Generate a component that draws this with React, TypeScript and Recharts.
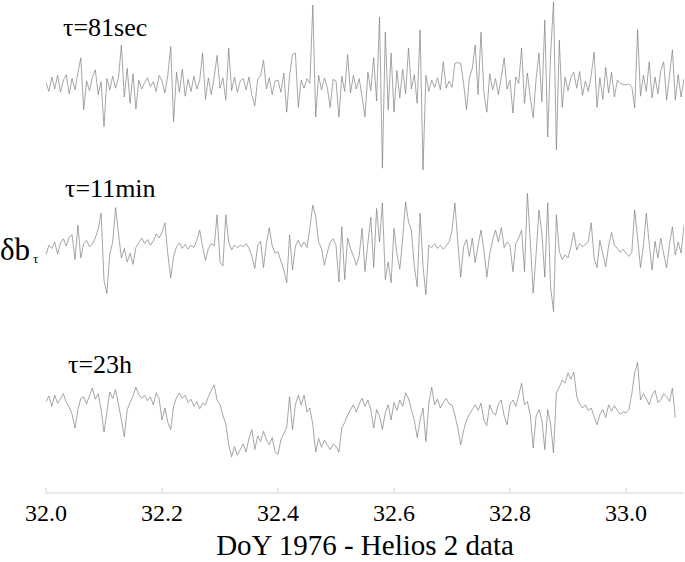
import React from 'react';
import { LineChart, Line, XAxis, YAxis } from 'recharts';

// sampling of the traces (day of year 1976)
const SAMPLE_START = 32.0;
const SAMPLE_STEP = 0.005;

// tau = 81 sec increments
const topValues: (number | null)[] = [
  0.3, -0.8, 1.0, -0.5, 1.2, -0.9, 0.6, 1.3, -1.1, 0.8, -0.6, 1.5, 3.4, -3.1, 0.5, -0.7, 1.0, 1.9, -1.2, 0.4,
  -5.2, 0.8, -0.6, 1.1, -0.4, 0.9, 5.0, -1.5, 2.1, -2.3, 1.4, -3.0, 0.6, -0.5, 0.3, 0.9, -0.2, 0.4, -0.8, 1.2,
  0.5, -1.0, 1.2, 4.8, -4.6, 1.6, -0.9, 2.0, -1.4, 0.7, -0.8, 1.1, -0.5, 0.6, 4.0, -1.8, 0.9, -1.2, 1.0, 3.7,
  -0.4, 0.9, -1.9, 4.6, -0.7, 1.0, -0.9, 0.5, 0.8, -0.6, 1.0, -1.3, -2.6, 0.7, 1.2, 3.1, -0.5, 0.9, -1.2, 0.5,
  0.6, -0.9, 1.5, -3.4, 1.2, 3.8, 4.0, -2.8, 0.6, -0.4, 0.8, 0.2, 10.0, -4.0, 1.2, -0.6, 0.9, -0.3, -2.8, 0.7,
  0.5, -4.0, 1.1, -0.8, 3.8, -1.0, 1.2, -0.5, 0.8, -1.5, -4.0, 1.6, -0.7, 3.4, -2.0, 8.5, -10.4, 6.6, -3.1, 4.0,
  -3.4, 1.8, -1.6, 2.0, -1.1, 4.6, -0.5, 1.3, -2.3, 6.9, -10.6, 1.2, -0.8, 0.6, -0.3, 0.9, -0.6, 2.9, -0.4, 0.5,
  -0.3, 2.7, 2.8, 2.7, 0.2, -3.1, 0.9, 2.1, 5.0, -1.2, 6.6, -0.9, -3.4, 1.4, -0.6, 0.8, -1.2, 1.0, 3.4, -0.5,
  0.6, -3.5, 1.0, 0.2, 4.6, -2.3, 1.5, -1.6, -4.1, 0.8, 4.0, -2.1, 8.1, -6.5, 3.8, 10.4, -8.1, 5.6, -2.8, 1.0,
  -0.7, 0.9, 1.6, -0.4, 1.7, -1.3, 0.5, -0.8, 1.2, 4.1, -2.8, 0.9, -1.8, 2.2, -1.0, 1.6, -1.5, 0.6, 0.2, 0.1,
  0.0, 0.1, -0.2, -2.9, 6.9, -1.4, 1.2, -0.8, 2.9, -1.6, 1.0, -1.1, 1.8, 2.9, -1.9, 1.2, 4.4, -1.9, 1.3, -1.5, 0.8,
];

// tau = 11 min increments
const midValues: (number | null)[] = [
  -0.6, 0.6, 0.2, 1.0, -0.5, 0.9, 1.4, 0.5, 1.6, 1.9, -1.2, 3.1, -1.0, 0.8, 1.2, 0.4, 0.7, 1.5, 2.6, 4.6,
  -3.8, -5.4, -0.5, 1.0, 5.3, 2.0, -1.0, 0.2, -1.5, -0.4, -1.8, 0.3, 0.9, 1.5, 0.8, 1.3, 0.6, 1.1, 2.0, 1.5,
  2.2, 3.4, -0.5, -3.5, -0.8, 0.4, 0.9, 0.2, 0.7, 0.1, 0.6, 0.3, 1.2, 2.5, 0.4, -1.3, 0.2, 0.8, 0.5, 4.4,
  -1.5, -2.0, 4.4, 1.0, 0.0, 0.6, 0.3, 0.6, 0.4, 0.8, 0.2, -0.8, -2.3, 0.6, 1.1, -2.2, 0.8, 2.8, 0.5, -0.4,
  -0.2, -1.4, -2.5, -4.1, 1.9, -2.5, 0.5, 1.2, 0.4, 1.0, 0.3, 2.8, 5.6, 4.2, 1.0, 0.2, -1.9, -0.3, 1.0, 1.4,
  0.6, -4.0, 2.9, -3.7, 1.5, 0.2, -0.8, -1.9, -0.7, 2.7, -2.7, 0.9, 4.1, -2.2, 5.2, 1.0, 5.9, -3.7, -1.5, -4.1,
  2.7, -0.5, -2.4, 1.5, 6.0, 3.5, 2.5, -2.0, -4.6, 4.6, -2.0, -5.6, 0.6, 0.3, 0.8, 0.2, 0.6, 0.1, 0.5, 1.0,
  2.4, 5.9, 1.0, -3.4, 0.4, 1.3, -0.8, 1.5, -1.6, 0.6, 2.5, 0.0, -3.4, -0.5, 1.2, 2.5, 1.0, 2.8, 0.3, 1.0,
  0.6, -2.7, 0.8, 1.5, 2.5, -2.7, 7.1, 1.0, -5.4, -0.5, 5.0, 2.0, -3.4, 5.9, -4.6, -7.7, 4.4, -0.2, -1.2, -0.6,
  -1.0, 0.4, 2.2, 0.0, 0.8, 0.4, 0.7, 1.0, 3.4, -1.0, -2.2, 1.2, -0.5, -2.1, 0.5, 2.2, 0.6, 0.2, -0.3, 0.1,
  -0.4, -0.8, -0.3, 5.0, 1.5, -2.2, 0.5, 4.6, 0.8, -2.5, 1.1, -1.0, 1.5, -0.5, -2.2, 0.7, 2.9, -0.6, 1.0, -0.4, 3.1,
];

// tau = 23 h increments
const botValues: (number | null)[] = [
  -0.2, 0.5, -0.8, 0.6, -0.4, 0.2, 0.8, -0.3, -0.9, -1.8, -3.5, -1.2, 0.2, 0.4, -0.5, 0.6, 1.5, 0.1, 0.8, -1.2,
  -4.0, -1.5, 1.0, 0.2, 1.3, -0.6, -2.5, -4.6, -1.2, -0.3, 0.5, 1.6, 0.7, 0.2, 0.6, -0.1, 0.4, -0.6, 0.9, 0.2,
  -2.5, -1.0, -2.8, -3.7, -0.8, 0.3, 0.9, 0.2, 0.6, -0.3, 0.1, -0.8, -0.2, -1.1, -0.4, -0.6, 0.4, 1.2, 1.9, 0.0,
  -0.6, -1.9, -3.0, -5.6, -7.1, -5.8, -6.9, -6.2, -5.5, -6.5, -4.8, -3.7, -6.2, -4.5, -5.2, -3.9, -5.0, -5.6, -4.7, -6.5,
  -6.8, -5.0, -4.2, -3.5, 0.4, -3.7, -0.6, 0.6, -0.6, 0.6, -1.5, -1.0, -3.1, -6.5, -4.8, -5.9, -5.0, -5.6, -6.2, -5.5,
  -5.8, -6.5, -3.5, -2.8, -1.9, -1.2, -0.6, -1.5, -0.5, 0.2, -0.8, 0.0, -1.2, -3.5, -1.2, -2.0, -3.7, -1.6, -0.6, -2.5,
  -0.3, -1.3, 0.0, -0.8, 0.9, 0.2, -1.2, -2.5, -4.7, -2.5, -1.0, -5.2, -0.5, 1.6, -0.6, 0.1, -1.0, -0.3, 0.2, -0.5,
  -0.6, -1.9, -3.5, -5.6, -3.8, -2.5, -1.8, -1.2, -0.6, -1.3, -0.4, -2.5, -3.2, -0.6, -1.5, -1.9, -0.5, 0.0, -2.0, -3.1,
  -0.5, 0.0, -0.8, 0.6, 2.1, -0.6, -0.2, -1.9, -6.0, -2.0, -1.2, -2.5, -6.2, -1.2, -3.0, -6.6, 0.9, 1.6, 2.5, 2.1,
  3.4, 2.6, 3.5, 0.5, -0.5, -1.0, -0.6, -1.3, -1.0, -2.1, -3.1, -1.8, -1.2, -2.2, -0.6, -1.4, -0.7, -1.3, -1.8, -1.5,
  -1.6, -1.2, 0.8, 3.4, 4.7, 0.0, 0.8, 0.2, -0.6, 0.6, 1.2, -0.3, 0.0, 0.8, 0.4, -0.2, 1.5, -2.2, null, null, null,
];

const xTicks = [32.0, 32.2, 32.4, 32.6, 32.8, 33.0];
const panelLabels = ['τ=81sec', 'τ=11min', 'τ=23h'];
const xTitle = 'DoY 1976 - Helios 2 data';

const days = topValues.map((_, i) => Number((SAMPLE_START + i * SAMPLE_STEP).toFixed(3)));
const data = days.map((day, i) => ({
  day,
  top: topValues[i],
  mid: midValues[i],
  bot: botValues[i],
}));

const SERIF = "'Liberation Serif', 'Times New Roman', Times, serif";
const FRAME = '#d4d4d4';
const TRACE = '#808080';

const txt = (size: number): React.CSSProperties => ({ fontFamily: SERIF, fontSize: size });

export default function App() {
  return (
    <div
      style={{
        position: 'absolute',
        left: 0,
        top: 0,
        width: 685,
        height: 562,
        background: '#fff',
        fontFamily: SERIF,
      }}
    >
      <LineChart
        width={685}
        height={562}
        data={data}
        margin={{ top: 1, right: 1, bottom: 0, left: 46 }}
        style={{ fontFamily: SERIF }}
      >
        <XAxis
          dataKey="day"
          type="number"
          domain={[32.0, 33.1]}
          ticks={xTicks}
          allowDataOverflow
          height={69}
          tickSize={-5}
          tickMargin={16}
          tickFormatter={(v: number) => v.toFixed(1)}
          tick={{ fill: '#000', fontSize: 24, fontFamily: SERIF, style: { fontFamily: SERIF } }}
          axisLine={{ stroke: FRAME }}
          tickLine={{ stroke: FRAME }}
        />
        <XAxis
          xAxisId="frameTop"
          dataKey="day"
          type="number"
          domain={[32.0, 33.1]}
          orientation="top"
          height={0}
          tick={false}
          tickLine={false}
          axisLine={{ stroke: FRAME }}
        />
        <YAxis yAxisId="top" hide domain={[-51, 10.5]} allowDataOverflow />
        <YAxis yAxisId="mid" hide domain={[-30.375, 31.125]} allowDataOverflow />
        <YAxis yAxisId="bot" hide domain={[-11.625, 49.875]} allowDataOverflow />
        <YAxis
          yAxisId="frameLeft"
          orientation="left"
          width={0}
          domain={[0, 1]}
          tick={false}
          tickLine={false}
          axisLine={{ stroke: FRAME }}
        />
        <YAxis
          yAxisId="frameRight"
          orientation="right"
          width={0}
          domain={[0, 1]}
          tick={false}
          tickLine={false}
          axisLine={{ stroke: FRAME }}
        />
        <Line yAxisId="top" dataKey="top" type="linear" dot={false} stroke={TRACE} strokeWidth={0.7} isAnimationActive={false} />
        <Line yAxisId="mid" dataKey="mid" type="linear" dot={false} stroke={TRACE} strokeWidth={0.7} isAnimationActive={false} />
        <Line yAxisId="bot" dataKey="bot" type="linear" dot={false} stroke={TRACE} strokeWidth={0.7} isAnimationActive={false} />
      </LineChart>
      <svg
        width={685}
        height={562}
        style={{ position: 'absolute', left: 0, top: 0, pointerEvents: 'none' }}
      >
        <g fill="#000">
          <text x={63} y={36} style={txt(26)}>{panelLabels[0]}</text>
          <text x={65} y={197} style={txt(26)}>{panelLabels[1]}</text>
          <text x={68} y={373} style={txt(26)}>{panelLabels[2]}</text>
          <text x={0} y={260} style={txt(31)}>δb</text>
          <text x={33} y={263} style={txt(13)}>τ</text>
          <text x={365} y={555} textAnchor="middle" style={txt(29)}>{xTitle}</text>
        </g>
      </svg>
    </div>
  );
}
